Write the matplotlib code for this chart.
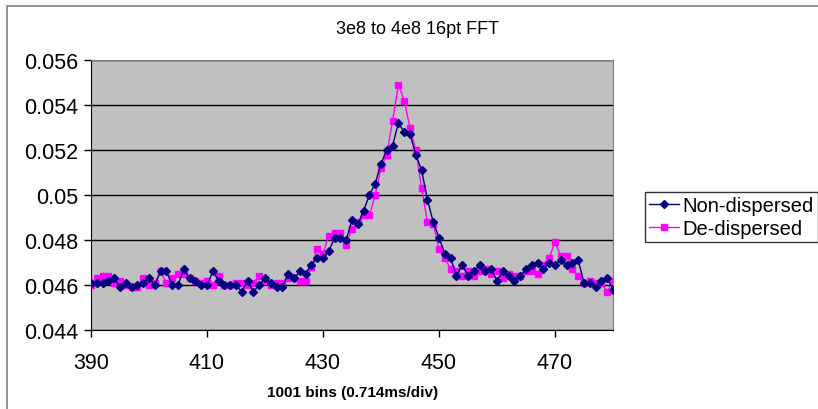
import matplotlib.pyplot as plt
from matplotlib.patches import Rectangle

plt.rcParams["font.family"] = ["Liberation Sans", "DejaVu Sans"]

bins = list(range(390, 481))

non_dispersed = [
    0.0461, 0.0461, 0.0461, 0.0462, 0.0463, 0.0459, 0.0461, 0.0459, 0.0460, 0.0461,
    0.0463, 0.0460, 0.0466, 0.0466, 0.0460, 0.0460, 0.0467, 0.0463, 0.0462, 0.0460,
    0.0460, 0.0466, 0.0462, 0.0460, 0.0460, 0.0460, 0.0457, 0.0462, 0.0457, 0.0460,
    0.0463, 0.0461, 0.0459, 0.0459, 0.0465, 0.0463, 0.0466, 0.0465, 0.0469, 0.0472,
    0.0472, 0.0475, 0.0481, 0.0481, 0.0480, 0.0489, 0.0487, 0.0493, 0.0500, 0.0505,
    0.0514, 0.0520, 0.0522, 0.0532, 0.0528, 0.0527, 0.0518, 0.0511, 0.0498, 0.0488,
    0.0481, 0.0474, 0.0472, 0.0464, 0.0469, 0.0464, 0.0466, 0.0469, 0.0466, 0.0467,
    0.0462, 0.0466, 0.0464, 0.0462, 0.0464, 0.0467, 0.0469, 0.0470, 0.0467, 0.0470,
    0.0469, 0.0471, 0.0469, 0.0470, 0.0471, 0.0461, 0.0461, 0.0459, 0.0462, 0.0463,
    0.0458,
]

de_dispersed = [
    0.0460, 0.0463, 0.0464, 0.0464, 0.0461, 0.0462, 0.0460, 0.0459, 0.0459, 0.0463,
    0.0460, 0.0461, 0.0466, 0.0461, 0.0463, 0.0465, 0.0465, 0.0463, 0.0462, 0.0461,
    0.0462, 0.0460, 0.0464, 0.0460, 0.0460, 0.0461, 0.0461, 0.0460, 0.0461, 0.0464,
    0.0462, 0.0460, 0.0461, 0.0461, 0.0463, 0.0463, 0.0462, 0.0462, 0.0468, 0.0476,
    0.0474, 0.0482, 0.0483, 0.0483, 0.0478, 0.0485, 0.0488, 0.0491, 0.0491, 0.0500,
    0.0512, 0.0518, 0.0533, 0.0549, 0.0542, 0.0530, 0.0520, 0.0503, 0.0488, 0.0487,
    0.0476, 0.0472, 0.0467, 0.0466, 0.0464, 0.0466, 0.0464, 0.0466, 0.0467, 0.0465,
    0.0466, 0.0463, 0.0465, 0.0464, 0.0464, 0.0466, 0.0466, 0.0465, 0.0469, 0.0472,
    0.0479, 0.0473, 0.0473, 0.0467, 0.0464, 0.0461, 0.0462, 0.0461, 0.0461, 0.0457,
    0.0462,
]

x_ticks = [390, 410, 430, 450, 470]
y_ticks = [0.044, 0.046, 0.048, 0.05, 0.052, 0.054, 0.056]
y_labels = ["0.044", "0.046", "0.048", "0.05", "0.052", "0.054", "0.056"]

fig = plt.figure(figsize=(8.18, 4.10), dpi=100)
# chart-area border, cut off on the right and bottom like the screenshot
fig.patches.append(Rectangle((7 / 818, -0.1), 1.2, 1.1 - 7 / 410,
                             transform=fig.transFigure, fill=False,
                             edgecolor="#808080", linewidth=1.2))

ax = fig.add_axes([91 / 818, 79 / 410, 522 / 818, 270 / 410])
ax.set_facecolor("#c0c0c0")

ax.plot(bins, non_dispersed, color="#000080", marker="D", markersize=4.5,
        linewidth=1, label="Non-dispersed", zorder=3)
ax.plot(bins, de_dispersed, color="#ff00ff", marker="s", markersize=5,
        linewidth=1, label="De-dispersed", zorder=2)

ax.set_xlim(390, 480)
ax.set_ylim(0.044, 0.056)
ax.set_xticks(x_ticks)
ax.set_yticks(y_ticks)
ax.set_yticklabels(y_labels)
ax.tick_params(axis="both", labelsize=15.5, direction="out", length=5, width=1)
ax.tick_params(axis="x", pad=11)
ax.tick_params(axis="y", pad=4)
ax.grid(axis="y", color="black", linewidth=1)
ax.set_axisbelow(True)
for side in ["top", "right"]:
    ax.spines[side].set_color("#808080")
for side in ["left", "bottom"]:
    ax.spines[side].set_color("black")

fig.text(417 / 818, 1 - 30 / 410, "3e8 to 4e8 16pt FFT", ha="center", va="center",
         fontsize=13)
fig.text(353 / 818, 1 - 393 / 410, "1001 bins (0.714ms/div)", ha="center",
         va="center", fontsize=11, fontweight="bold")

leg = fig.legend(loc="upper left", bbox_to_anchor=(645 / 818, 1 - 193 / 410),
                 fontsize=14.5, frameon=True, fancybox=False, borderpad=0.2,
                 handlelength=1.5, handletextpad=0.15, labelspacing=0.2,
                 borderaxespad=0)
leg.get_frame().set_edgecolor("black")
leg.get_frame().set_linewidth(1)

fig.savefig("out.png", dpi=100)
